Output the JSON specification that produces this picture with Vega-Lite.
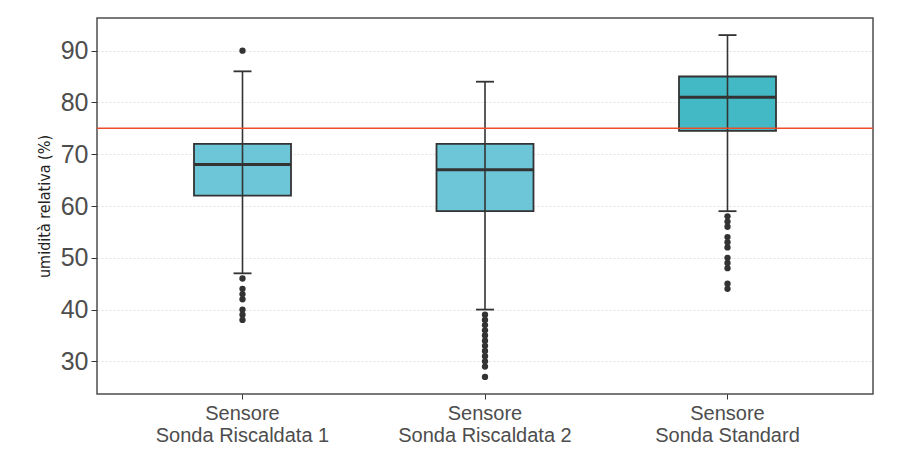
{
  "$schema": "https://vega.github.io/schema/vega-lite/v6.json",
  "width": 776,
  "height": 376,
  "autosize": {"type": "none"},
  "padding": {"left": 97, "top": 18, "right": 26, "bottom": 72},
  "background": "white",
  "config": {"view": {"stroke": "#4d4d4d", "strokeWidth": 1.5}},
  "datasets": {
    "summary": [
      {"sensore": "Sonda Riscaldata 1", "lower": 47, "q1": 62, "median": 68, "q3": 72, "upper": 86},
      {"sensore": "Sonda Riscaldata 2", "lower": 40, "q1": 59, "median": 67, "q3": 72, "upper": 84},
      {"sensore": "Sonda Standard", "lower": 59, "q1": 74.5, "median": 81, "q3": 85, "upper": 93}
    ],
    "outliers": [
      {"sensore": "Sonda Riscaldata 1", "valore": 90},
      {"sensore": "Sonda Riscaldata 1", "valore": 46},
      {"sensore": "Sonda Riscaldata 1", "valore": 44},
      {"sensore": "Sonda Riscaldata 1", "valore": 43},
      {"sensore": "Sonda Riscaldata 1", "valore": 42},
      {"sensore": "Sonda Riscaldata 1", "valore": 40},
      {"sensore": "Sonda Riscaldata 1", "valore": 39},
      {"sensore": "Sonda Riscaldata 1", "valore": 38},
      {"sensore": "Sonda Riscaldata 2", "valore": 39},
      {"sensore": "Sonda Riscaldata 2", "valore": 38},
      {"sensore": "Sonda Riscaldata 2", "valore": 37},
      {"sensore": "Sonda Riscaldata 2", "valore": 36},
      {"sensore": "Sonda Riscaldata 2", "valore": 35},
      {"sensore": "Sonda Riscaldata 2", "valore": 34},
      {"sensore": "Sonda Riscaldata 2", "valore": 33},
      {"sensore": "Sonda Riscaldata 2", "valore": 32},
      {"sensore": "Sonda Riscaldata 2", "valore": 31},
      {"sensore": "Sonda Riscaldata 2", "valore": 30},
      {"sensore": "Sonda Riscaldata 2", "valore": 29},
      {"sensore": "Sonda Riscaldata 2", "valore": 27},
      {"sensore": "Sonda Standard", "valore": 58},
      {"sensore": "Sonda Standard", "valore": 57},
      {"sensore": "Sonda Standard", "valore": 56},
      {"sensore": "Sonda Standard", "valore": 54},
      {"sensore": "Sonda Standard", "valore": 53},
      {"sensore": "Sonda Standard", "valore": 52},
      {"sensore": "Sonda Standard", "valore": 50},
      {"sensore": "Sonda Standard", "valore": 49},
      {"sensore": "Sonda Standard", "valore": 48},
      {"sensore": "Sonda Standard", "valore": 45},
      {"sensore": "Sonda Standard", "valore": 44}
    ],
    "soglia": [{"soglia": 75}]
  },
  "encoding": {
    "x": {
      "field": "sensore",
      "type": "nominal",
      "sort": ["Sonda Riscaldata 1", "Sonda Riscaldata 2", "Sonda Standard"],
      "scale": {"paddingInner": 0.6, "paddingOuter": 0.4},
      "axis": {
        "title": null,
        "labelAngle": 0,
        "labelExpr": "['Sensore', datum.value]",
        "labelFont": "Liberation Sans",
        "labelFontSize": 20,
        "labelColor": "#4d4d4d",
        "labelLineHeight": 22,
        "labelPadding": 4,
        "tickColor": "#333333",
        "tickSize": 5,
        "domain": false,
        "grid": false
      }
    }
  },
  "layer": [
    {
      "data": {"name": "summary"},
      "mark": {"type": "bar", "stroke": "#333333", "strokeWidth": 1.8, "opacity": 1},
      "encoding": {
        "y": {
          "field": "q1",
          "type": "quantitative",
          "scale": {"domain": [23.7, 96.3], "nice": false, "zero": false},
          "axis": {
            "title": "umidità relativa (%)",
            "titleFont": "'DejaVu Sans Condensed', 'Liberation Sans', sans-serif",
            "titleFontSize": 16,
            "titleFontWeight": "normal",
            "titleColor": "#222222",
            "titlePadding": 8,
            "values": [30, 40, 50, 60, 70, 80, 90],
            "labelFont": "Liberation Sans",
            "labelFontSize": 25,
            "labelColor": "#4d4d4d",
            "labelPadding": 3,
            "tickColor": "#333333",
            "tickSize": 6,
            "domain": false,
            "grid": true,
            "gridColor": "#e3e3e3",
            "gridDash": [2, 2]
          }
        },
        "y2": {"field": "q3"},
        "fill": {
          "field": "sensore",
          "type": "nominal",
          "scale": {
            "domain": ["Sonda Riscaldata 1", "Sonda Riscaldata 2", "Sonda Standard"],
            "range": ["#6cc6d8", "#6cc6d8", "#42b9c4"]
          },
          "legend": null
        }
      }
    },
    {
      "data": {"name": "summary"},
      "mark": {"type": "rule", "color": "#333333", "strokeWidth": 1.6},
      "encoding": {
        "y": {"field": "lower", "type": "quantitative"},
        "y2": {"field": "upper"}
      }
    },
    {
      "data": {"name": "summary"},
      "mark": {"type": "tick", "color": "#333333", "opacity": 1, "size": 18, "thickness": 1.8},
      "encoding": {"y": {"field": "lower", "type": "quantitative"}}
    },
    {
      "data": {"name": "summary"},
      "mark": {"type": "tick", "color": "#333333", "opacity": 1, "size": 18, "thickness": 1.8},
      "encoding": {"y": {"field": "upper", "type": "quantitative"}}
    },
    {
      "data": {"name": "summary"},
      "mark": {"type": "tick", "color": "#333333", "opacity": 1, "size": 97, "thickness": 3},
      "encoding": {"y": {"field": "median", "type": "quantitative"}}
    },
    {
      "data": {"name": "outliers"},
      "mark": {"type": "point", "filled": true, "color": "#333333", "opacity": 1, "size": 40},
      "encoding": {"y": {"field": "valore", "type": "quantitative"}}
    },
    {
      "data": {"name": "soglia"},
      "mark": {"type": "rule", "color": "#ee4b2b", "strokeWidth": 1.5},
      "encoding": {
        "x": null,
        "y": {"field": "soglia", "type": "quantitative"}
      }
    }
  ]
}
